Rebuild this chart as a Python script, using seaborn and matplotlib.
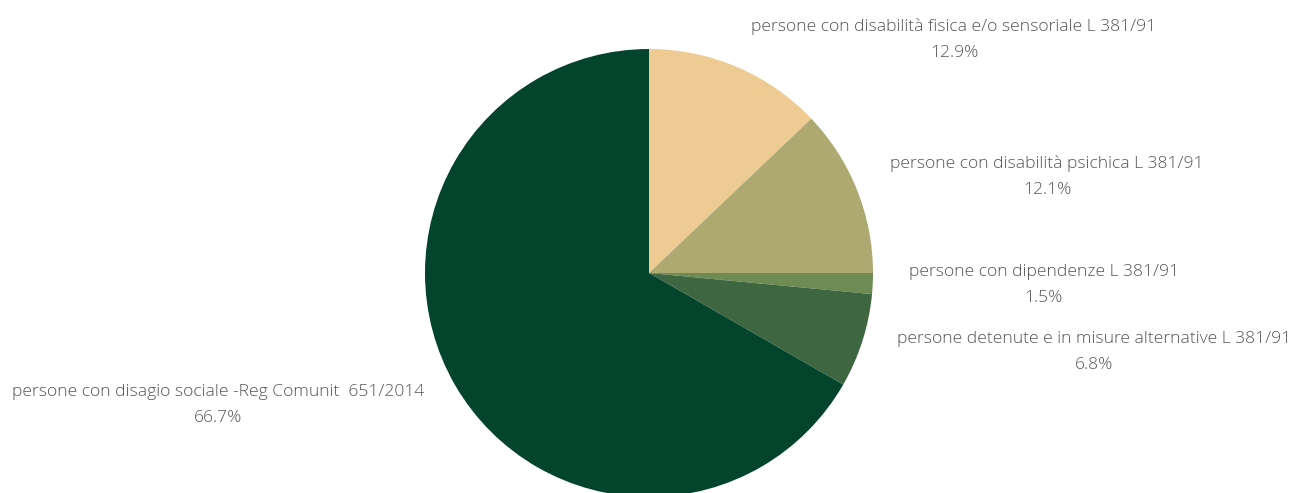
import numpy as np
import matplotlib.pyplot as plt
import seaborn as sns

# Categories and shares (%)
categories = [
    "persone con disabilità fisica e/o sensoriale L 381/91",
    "persone con disabilità psichica L 381/91",
    "persone con dipendenze L 381/91",
    "persone detenute e in misure alternative L 381/91",
    "persone con disagio sociale -Reg Comunit  651/2014",
]
shares = [12.9, 12.1, 1.5, 6.8, 66.7]
colors = ["#EDCB93", "#ADA971", "#6E8B54", "#3E6640", "#03442C"]

sns.set_style("white")
plt.rcParams['font.family'] = ['Open Sans', 'DejaVu Sans']

fig = plt.figure(figsize=(12.94, 4.93), dpi=100)
ax = fig.add_axes([0, 0, 1, 1])

wedges, _ = ax.pie(shares, colors=colors, startangle=90, counterclock=False,
                   radius=1.0, wedgeprops=dict(linewidth=0))

# labels outside each wedge
for w, cat, val in zip(wedges, categories, shares):
    theta = np.deg2rad((w.theta1 + w.theta2) / 2)
    c, s = np.cos(theta), np.sin(theta)
    x = 1.16 * c
    ha = 'left' if c > 0 else 'right'
    if s > 0.6:
        va, y = 'bottom', 1.03 * s
    elif s < -0.45:
        va, y = 'top', 0.99 * s
    else:
        va, y = 'center', 1.16 * s
    ax.text(x, y, f"{cat}\n{val}%", ha=ha, va=va, multialignment='center',
            fontsize=12.6, color='#555555', fontweight='light', linespacing=1.8)

# pixel-matched limits (radius 224 px, centre at 649, 273)
r_px = 224
ax.set_xlim(-649 / r_px, (1294 - 649) / r_px)
ax.set_ylim(-(493 - 273) / r_px, 273 / r_px)
ax.set_aspect('auto')
ax.axis('off')

fig.savefig('out.png', dpi=100)
